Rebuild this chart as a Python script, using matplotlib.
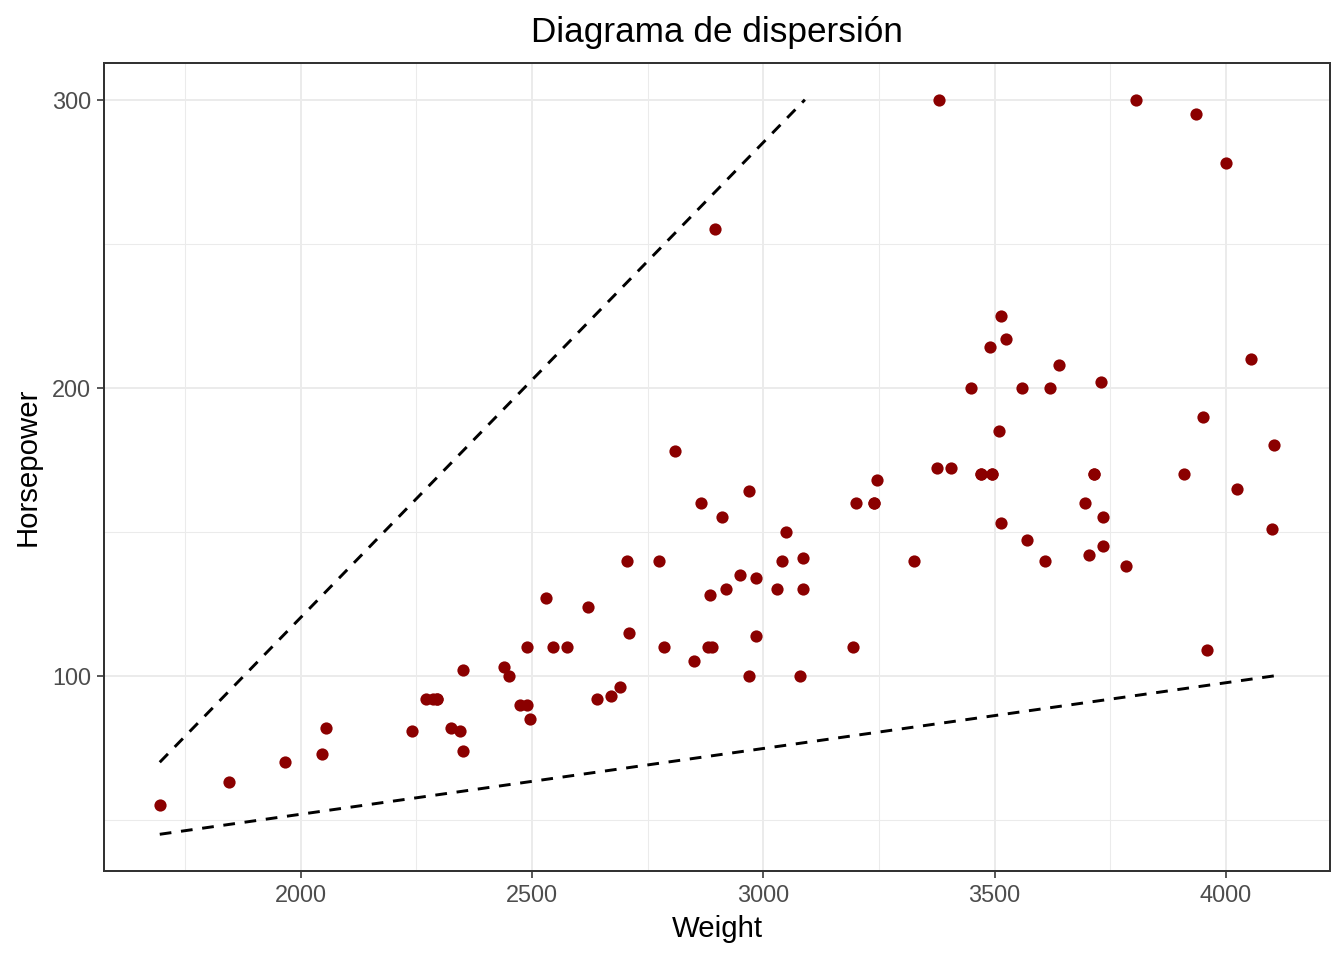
import matplotlib
matplotlib.use("Agg")
import matplotlib.pyplot as plt
from matplotlib.ticker import MultipleLocator

# Weight / Horsepower
weight = [2705, 3560, 3375, 3405, 3640, 2880, 3470, 4105, 3495, 3620,
          3935, 2490, 2785, 3240, 3195, 3715, 4025, 3910, 3380, 3515,
          3085, 3570, 2270, 2670, 2970, 3705, 3080, 3805, 2295, 3490,
          1845, 2530, 2690, 2850, 2710, 3735, 3325, 3950, 1695, 2475,
          2865, 2350, 3040, 2345, 2620, 2285, 2885, 4000, 3510, 3515,
          3695, 4055, 2325, 2440, 2970, 3735, 2895, 2920, 3525, 2450,
          3610, 2295, 3730, 2545, 3050, 4100, 3200, 2910, 2890, 3715,
          3470, 2640, 2350, 2575, 3240, 3450, 3495, 2775, 2495, 2045,
          2490, 3085, 1965, 2055, 2950, 3030, 3785, 2240, 3960, 2985,
          2810, 2985, 3245]
horsepower = [140, 200, 172, 172, 208, 110, 170, 180, 170, 200,
              295, 110, 110, 160, 110, 170, 165, 170, 300, 153,
              141, 147, 92, 93, 100, 142, 100, 300, 92, 214,
              63, 127, 96, 105, 115, 145, 140, 190, 55, 90,
              160, 102, 140, 81, 124, 92, 128, 278, 185, 225,
              160, 210, 82, 103, 164, 155, 255, 130, 217, 100,
              140, 92, 202, 110, 150, 151, 160, 155, 110, 170,
              170, 92, 74, 110, 160, 200, 170, 140, 85, 73,
              90, 130, 70, 82, 135, 130, 138, 81, 109, 134,
              178, 114, 168]

# dashed reference lines (endpoints)
upper_x = [1695, 3090]
upper_y = [70, 300]
lower_x = [1695, 4105]
lower_y = [45, 100]

plt.rcParams['font.family'] = ['Liberation Sans', 'DejaVu Sans']

fig = plt.figure(figsize=(7, 5), dpi=192)
ax = fig.add_axes([0.0774, 0.0927, 0.9122, 0.8417])

ax.scatter(weight, horsepower, s=21, color='#8B0000', zorder=3, linewidths=0)
ax.plot(upper_x, upper_y, color='black', lw=1.1, ls=(0, (4, 3.3)), zorder=2)
ax.plot(lower_x, lower_y, color='black', lw=1.1, ls=(0, (4, 3.3)), zorder=2)

# ggplot style 5% expansion
xr = max(weight) - min(weight)
yr = 300 - 45
ax.set_xlim(min(weight) - 0.05 * xr, max(weight) + 0.05 * xr)
ax.set_ylim(45 - 0.05 * yr, 300 + 0.05 * yr)

ax.xaxis.set_major_locator(MultipleLocator(500))
ax.xaxis.set_minor_locator(MultipleLocator(250))
ax.yaxis.set_major_locator(MultipleLocator(100))
ax.yaxis.set_minor_locator(MultipleLocator(50))

ax.set_axisbelow(True)
ax.grid(which='major', color='#EBEBEB', lw=0.75)
ax.grid(which='minor', color='#EBEBEB', lw=0.4)
for sp in ax.spines.values():
    sp.set_color('#333333')
    sp.set_linewidth(0.75)

ax.tick_params(which='major', length=2.75, width=0.6, color='#333333',
               labelsize=8.8, labelcolor='#4D4D4D', pad=2)
ax.tick_params(which='minor', length=0)

ax.set_xlabel('Weight', fontsize=11, labelpad=3)
ax.set_ylabel('Horsepower', fontsize=11, labelpad=4)
ax.set_title('Diagrama de dispersión', fontsize=13.2, pad=8)

fig.savefig('out.png', dpi=192)
